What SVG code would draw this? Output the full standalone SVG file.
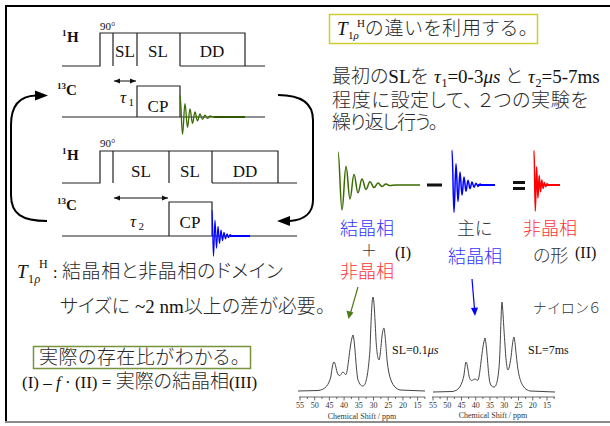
<svg xmlns="http://www.w3.org/2000/svg" width="610" height="426" viewBox="0 0 610 426">
<defs>
<style>
.tm{font-family:"Liberation Serif","Times New Roman",serif;fill:#111}
.jp{font-family:"Noto Sans CJK JP","Noto Sans",sans-serif;font-feature-settings:"palt";font-weight:300;fill:#2a2a2a}
.ln{fill:none;stroke:#222;stroke-width:1.2}
.br{fill:none;stroke:#000;stroke-width:2}
.ax{fill:none;stroke:#444;stroke-width:0.8}
.sp{fill:none;stroke:#444;stroke-width:1}
.tk{font-family:"Liberation Serif",serif;font-size:8px;fill:#333;text-anchor:middle}
.lbl{font-family:"Liberation Serif",serif;font-size:17px;fill:#111;text-anchor:middle}
</style>
<marker id="ah" viewBox="0 0 10 10" refX="10" refY="5" markerWidth="6" markerHeight="6" orient="auto-start-reverse"><path d="M0,1 L10,5 L0,9 z" fill="#111"/></marker>
</defs>
<rect width="610" height="426" fill="#fff"/>
<g id="frame">
<path d="M6,6 H610" stroke="#000" stroke-width="2"/>
<path d="M6,5 V422" stroke="#000" stroke-width="2"/>
<path d="M5,422 H610" stroke="#8c8c8c" stroke-width="2"/>
</g>

<g id="seq1">
<path class="ln" d="M62,66 H100 V33 H245 V66 M180,66 H265 M113,33 V66 M137,33 V66 M180,33 V66"/>
<path class="ln" d="M62,117 H265 M137,117 V86 H180 V117"/>
<text class="tm" x="100" y="30" font-size="11">90°</text>
<text class="tm" font-weight="bold"><tspan x="62" y="36" font-size="9">1</tspan><tspan x="67" y="42" font-size="15">H</tspan></text>
<text class="tm" font-weight="bold"><tspan x="57" y="89" font-size="9">13</tspan><tspan x="66" y="95" font-size="15">C</tspan></text>
<text class="lbl" x="125" y="57">SL</text>
<text class="lbl" x="158" y="57">SL</text>
<text class="lbl" x="212" y="57">DD</text>
<text class="lbl" x="158" y="112">CP</text>
<path d="M114,81 H136" stroke="#111" stroke-width="1" marker-start="url(#ah)" marker-end="url(#ah)"/>
<text class="tm"><tspan x="120" y="103" font-size="17" font-style="italic">τ</tspan><tspan x="128.5" y="106" font-size="11">1</tspan></text>
<path fill="none" stroke="#3a6b00" stroke-width="1.3" d="M180,95 C181,95 181.5,134.2 182.5,134.2 C183.5,134.2 184,103.6 185,103.6 C186,103.6 186.5,127.4 187.5,127.4 C188.5,127.4 189,108.9 190,108.9 C191,108.9 191.5,123.4 192.5,123.4 C193.5,123.4 194,112 195,112 C196,112 196.5,120.9 197.5,120.9 C198.5,120.9 199,114 200,114 C201,114 201.5,119.3 202.5,119.3 C203.5,119.3 204,115.2 205,115.2 C206,115.2 206.5,118.4 207.5,118.4 C208.5,118.4 209,116 210,116 C211,116 212,117 214,117 L245,117"/>
<path d="M214,117 H245" stroke="#2f5a00" stroke-width="2"/>
</g>

<g id="seq2">
<path class="ln" d="M62,183 H100 V151 H278 V183 M212,183 H297 M113,151 V183 M169,151 V183 M212,151 V183"/>
<path class="ln" d="M62,236 H297 M169,236 V202 H212 V236"/>
<text class="tm" x="100" y="147" font-size="11">90°</text>
<text class="tm" font-weight="bold"><tspan x="62" y="154" font-size="9">1</tspan><tspan x="67" y="160" font-size="15">H</tspan></text>
<text class="tm" font-weight="bold"><tspan x="57" y="204" font-size="9">13</tspan><tspan x="66" y="210" font-size="15">C</tspan></text>
<text class="lbl" x="141" y="177">SL</text>
<text class="lbl" x="190" y="177">SL</text>
<text class="lbl" x="245" y="177">DD</text>
<text class="lbl" x="190" y="228">CP</text>
<path d="M114,198 H168" stroke="#111" stroke-width="1" marker-start="url(#ah)" marker-end="url(#ah)"/>
<text class="tm"><tspan x="130" y="227" font-size="17" font-style="italic">τ</tspan><tspan x="138.5" y="230" font-size="11">2</tspan></text>
<path fill="none" stroke="#0000ff" stroke-width="1.2" d="M212,210 C212.6,210 212.9,256.3 213.5,256.3 C214.1,256.3 214.4,220.2 215,220.2 C215.6,220.2 215.9,248.3 216.5,248.3 C217.1,248.3 217.4,226.4 218,226.4 C218.6,226.4 218.9,243.5 219.5,243.5 C220.1,243.5 220.4,230.1 221,230.1 C221.6,230.1 221.9,240.6 222.5,240.6 C223.1,240.6 223.4,232.4 224,232.4 C224.6,232.4 224.9,238.8 225.5,238.8 C226.1,238.8 226.4,233.8 227,233.8 C227.6,233.8 227.9,237.7 228.5,237.7 C229.1,237.7 229.4,234.7 230,234.7 C231,234.7 231,236 232,236 L250,236"/>
<path d="M230,236 H250" stroke="#0000ff" stroke-width="2"/>
</g>

<g id="connectors">
<path class="br" d="M47,221 C22,221 11,214 11,195 L11,125 C11,106 19,96 36,95.5"/>
<polygon points="48,95.5 35,90.5 35,100.5" fill="#000"/>
<path class="br" d="M278,95 C300,95 313,102 313,120 L313,200 C313,213 304,220 290,221"/>
<polygon points="277,221 290,216 290,226" fill="#000"/>
<path d="M358,287 L350.5,313" stroke="#4d7a1a" stroke-width="1.2"/>
<polygon points="348.5,319 346.5,310.5 353.5,312.5" fill="#4d7a1a"/>
<path d="M472,279 L474.5,309" stroke="#0000ff" stroke-width="1.2"/>
<polygon points="475,316 471,308 478,307.5" fill="#0000ff"/>
</g>

<g id="box-title">
<rect x="329.5" y="14.5" width="208" height="29" fill="none" stroke="#cccc33" stroke-width="1.5"/>
<text class="tm"><tspan x="337" y="35" font-size="19" font-style="italic">T</tspan><tspan x="348" y="39" font-size="11">1</tspan><tspan x="353.5" y="39" font-size="11" font-style="italic">ρ</tspan><tspan x="357" y="27" font-size="11">H</tspan></text>
<text class="jp" x="365" y="35" font-size="19" textLength="163">の違いを利用する。</text>
</g>

<g id="desc">
<text y="83" font-size="19"><tspan class="jp" x="332">最初の</tspan><tspan class="tm">SL</tspan><tspan class="jp">を</tspan><tspan class="tm" dx="6" font-style="italic">τ</tspan><tspan class="tm" font-size="12" dx="0.5" dy="4">1</tspan><tspan class="tm" dy="-4">=0-3</tspan><tspan class="tm" font-style="italic">μs</tspan><tspan class="jp" dx="5">と</tspan><tspan class="tm" dx="6" font-style="italic">τ</tspan><tspan class="tm" font-size="12" dx="0.5" dy="4">2</tspan><tspan class="tm" dy="-4">=5-7ms</tspan></text>
<text class="jp" x="332" y="107" font-size="19" textLength="256">程度に設定して、 ２つの実験を</text>
<text class="jp" x="332" y="129" font-size="19" textLength="106">繰り返し行う。</text>
</g>

<g id="fid-sum">
<path fill="none" stroke="#3a6b00" stroke-width="1.5" d="M338,152 C339.6,152 340.4,209.8 342,209.8 C343.6,209.8 344.4,166.4 346,166.4 C347.6,166.4 348.4,198.9 350,198.9 C351.6,198.9 352.4,174.6 354,174.6 C355.6,174.6 356.4,192.8 358,192.8 C359.6,192.8 360.4,179.1 362,179.1 C363.6,179.1 364.4,189.4 366,189.4 C367.6,189.4 368.4,181.7 370,181.7 C371.6,181.7 372.4,187.5 374,187.5 C375.6,187.5 376.4,183.1 378,183.1 C379.6,183.1 380.4,186.4 382,186.4 C383.6,186.4 384.4,184 386,184 C387.6,184 388.4,185.6 390,185.6 C392,185.6 393,185 396,185 L420,185"/>
</g>
<g id="minus"><path d="M427,185 H442" stroke="#111" stroke-width="3"/></g>
<g id="fid-cryst">
<path fill="none" stroke="#0000ff" stroke-width="1.5" d="M452,150 C452.8,150 453.2,212.3 454,212.3 C454.8,212.3 455.2,163.7 456,163.7 C456.8,163.7 457.2,201.6 458,201.6 C458.8,201.6 459.2,172 460,172 C460.8,172 461.2,195.1 462,195.1 C462.8,195.1 463.2,177.1 464,177.1 C464.8,177.1 465.2,191.2 466,191.2 C466.8,191.2 467.2,180.2 468,180.2 C468.8,180.2 469.2,188.7 470,188.7 C470.8,188.7 471.2,182.1 472,182.1 C472.8,182.1 473.2,187.3 474,187.3 C474.8,187.3 475.2,183.2 476,183.2 C476.8,183.2 477.2,186.4 478,186.4 C478.8,186.4 479.2,184 480,184 C481,184 481,185 482,185 L495,185"/>
<path d="M478,185 H495" stroke="#0000ff" stroke-width="2"/>
</g>
<g id="equals"><path d="M513,182.5 H525 M513,188.5 H525" stroke="#111" stroke-width="3"/></g>
<g id="fid-amorph">
<path fill="none" stroke="#ff0000" stroke-width="1.5" d="M534,150 C534.5,150 534.8,211 535.3,211 C535.8,211 536.1,166.9 536.6,166.9 C537.1,166.9 537.4,198.1 537.9,198.1 C538.4,198.1 538.7,175.6 539.2,175.6 C539.7,175.6 540,191.8 540.5,191.8 C541,191.8 541.3,180.1 541.8,180.1 C542.3,180.1 542.6,188.5 543.1,188.5 C543.6,188.5 543.9,182.5 544.4,182.5 C544.9,182.5 545.2,186.8 545.7,186.8 C546.2,186.8 546.5,183.7 547,183.7 C548,183.7 548,185 549,185 L560,185"/>
<path d="M546,185 H560" stroke="#ff0000" stroke-width="2"/>
</g>

<g id="labels-fid">
<text class="jp" x="340" y="235" font-size="18" style="fill:#3333ff">結晶相</text>
<text class="jp" x="361" y="256" font-size="16" style="fill:#333">＋</text>
<text class="tm" x="395" y="258" font-size="16">(I)</text>
<text class="jp" x="340" y="278" font-size="18" style="fill:#ff3333">非晶相</text>
<text class="jp" x="457" y="235" font-size="18" style="fill:#333">主に</text>
<text class="jp" x="448" y="263" font-size="18" style="fill:#3333ff">結晶相</text>
<text class="jp" x="523" y="235" font-size="18" style="fill:#ff3333">非晶相</text>
<text class="jp" x="533" y="262" font-size="18" style="fill:#333">の形</text>
<text class="tm" x="575" y="258" font-size="16">(II)</text>
</g>

<g id="note">
<text class="tm"><tspan x="17" y="278" font-size="19" font-style="italic">T</tspan><tspan x="28" y="283" font-size="12">1</tspan><tspan x="34.5" y="283" font-size="12" font-style="italic">ρ</tspan><tspan x="39" y="268" font-size="12">H</tspan><tspan x="53" y="278" font-size="16">:</tspan></text>
<text class="jp" x="62" y="278" font-size="19" textLength="221">結晶相と非晶相のドメイン</text>
<text y="313" font-size="19"><tspan class="jp" x="60">サイズに</tspan><tspan class="tm" dx="5">~2 nm</tspan><tspan class="jp">以上の差が必要。</tspan></text>
</g>

<g id="box-ratio">
<rect x="33.5" y="346.5" width="217" height="22" fill="none" stroke="#77933c" stroke-width="1.5"/>
<text class="jp" x="39" y="364" font-size="19" textLength="201">実際の存在比がわかる。</text>
</g>
<g id="formula">
<text y="388" font-size="17"><tspan class="tm" x="22">(I) – </tspan><tspan class="tm" font-style="italic">f</tspan><tspan class="tm"> · (II) = </tspan><tspan class="jp" font-size="19">実際の結晶相</tspan><tspan class="tm">(III)</tspan></text>
</g>

<g id="spectrum1">
<path class="sp" d="M298,391 L318,390.5 C325,390 329,385 331,376 C332,368 333,362 334,362 C335,362 336,368 337,372 C338,375 339,376 340,375.5 C341,375 342,372 343,372 C344,372 345,375 346,374.5 C348,373 350,340 353,335 C355,340 356,372 358,380 C360,385 361,386 363,386 C366,386 368,375 370,350 C371,320 372,297 373,297 C374,297 375,320 376,340 C377,355 378,360 379,360 C380,360 381,345 382,336 C383,329 383.5,328 384,328 C384.5,328 386,345 387,360 C389,378 392,388 400,390 L425,391"/>
<path class="ax" d="M299,397 H425 M300,397 v3.5 M314.7,397 v3.5 M329.4,397 v3.5 M344.1,397 v3.5 M358.8,397 v3.5 M373.5,397 v3.5 M388.2,397 v3.5 M402.9,397 v3.5 M417.6,397 v3.5 M307.35,397 v2 M322.05,397 v2 M336.75,397 v2 M351.45,397 v2 M366.15,397 v2 M380.85,397 v2 M395.55,397 v2 M410.25,397 v2 M424.9,397 v2"/>
<text class="tk" y="408"><tspan x="300">55</tspan><tspan x="314.7">50</tspan><tspan x="329.4">45</tspan><tspan x="344.1">40</tspan><tspan x="358.8">35</tspan><tspan x="373.5">30</tspan><tspan x="388.2">25</tspan><tspan x="402.9">20</tspan><tspan x="417.6">15</tspan></text>
<text class="tk" x="362" y="419">Chemical Shift / ppm</text>
<text class="tm" y="354" font-size="12"><tspan x="392">SL=0.1</tspan><tspan font-style="italic">μs</tspan></text>
</g>

<g id="spectrum2">
<path class="sp" d="M433,392 L452,391.5 C459,391 462,385 464,375 C465,367 465.5,362 466,362 C467,362 468,370 469,376 C470,380 471,381 472,380.5 C473,380 474,379 475,379 C476,379 477,381 478,380 C480,378 482,345 485,338 C487,345 488,375 490,383 C491,386 492,387 494,387 C497,387 499,376 500,350 C501,320 501.5,302 502,302 C502.5,302 503.5,325 505,345 C506,362 507,370 508,370 C509,370 511,360 512,348 C513,340 513.5,337 514,337 C514.5,337 515.5,348 517,362 C519,380 522,389 530,391 L555,392"/>
<path class="ax" d="M432,397 H555 M433,397 v3.5 M447.25,397 v3.5 M461.5,397 v3.5 M475.75,397 v3.5 M490,397 v3.5 M504.25,397 v3.5 M518.5,397 v3.5 M532.75,397 v3.5 M547,397 v3.5 M440.1,397 v2 M454.4,397 v2 M468.6,397 v2 M482.9,397 v2 M497.1,397 v2 M511.4,397 v2 M525.6,397 v2 M539.9,397 v2 M554.1,397 v2"/>
<text class="tk" y="408"><tspan x="433">55</tspan><tspan x="447.25">50</tspan><tspan x="461.5">45</tspan><tspan x="475.75">40</tspan><tspan x="490">35</tspan><tspan x="504.25">30</tspan><tspan x="518.5">25</tspan><tspan x="532.75">20</tspan><tspan x="547">15</tspan></text>
<text class="tk" x="493" y="418">Chemical Shift / ppm</text>
<text class="tm" x="528" y="354" font-size="12">SL=7ms</text>
</g>
<g id="nylon">
<text class="jp" x="533" y="313" font-size="14" textLength="67" style="fill:#333">ナイロン６</text>
</g>
</svg>
